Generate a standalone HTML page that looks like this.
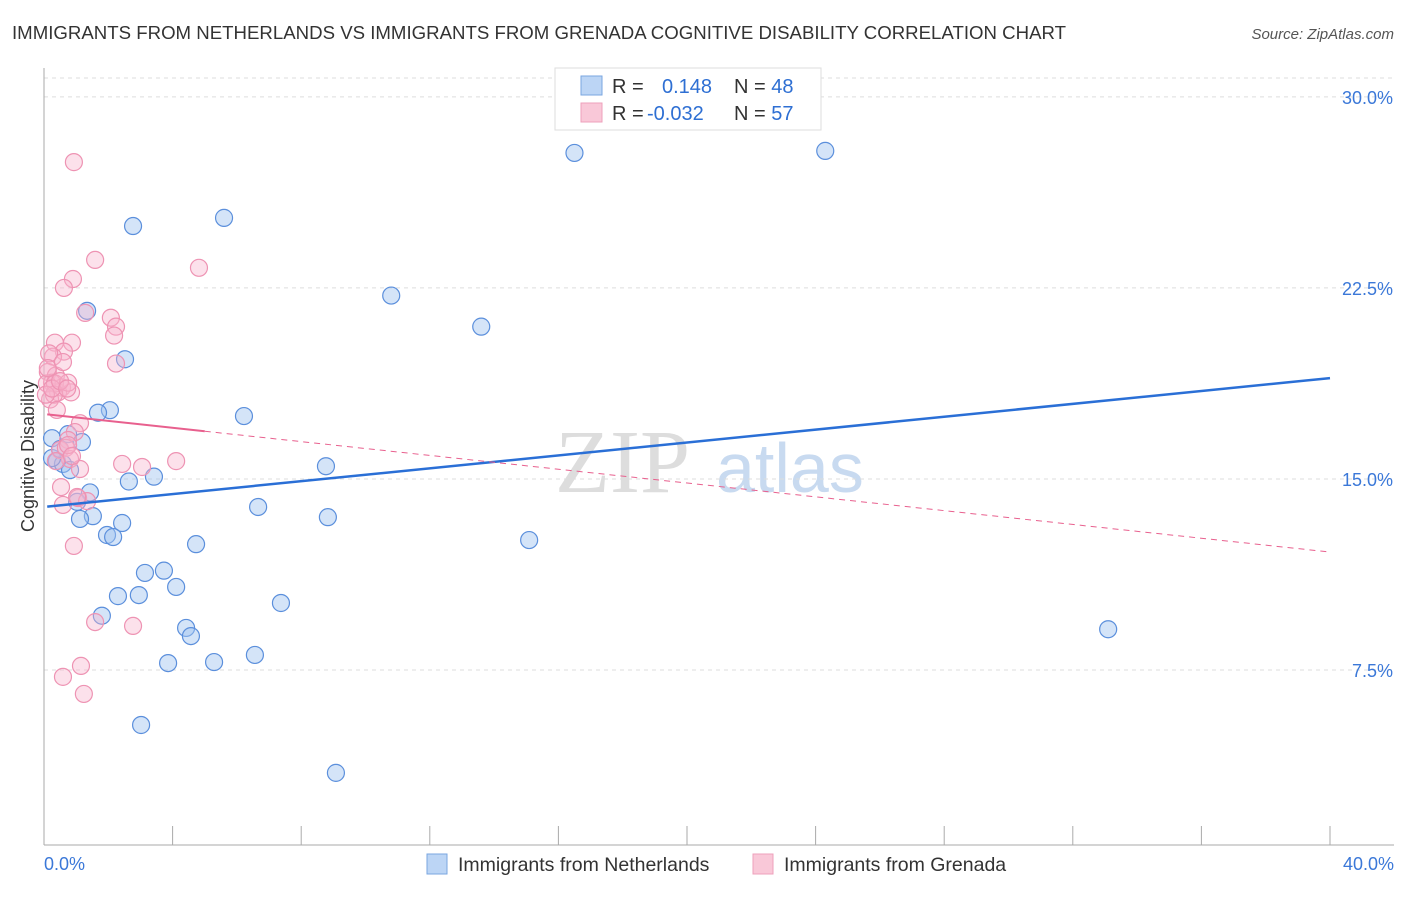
<!DOCTYPE html>
<html><head><meta charset="utf-8"><style>
body{margin:0;background:#fff;font-family:"Liberation Sans",sans-serif}
</style></head><body>
<svg id="chart" width="1406" height="892" xmlns="http://www.w3.org/2000/svg" font-family="Liberation Sans, sans-serif">
<text x="12" y="39" font-size="18" fill="#333" textLength="1054" lengthAdjust="spacingAndGlyphs">IMMIGRANTS FROM NETHERLANDS VS IMMIGRANTS FROM GRENADA COGNITIVE DISABILITY CORRELATION CHART</text>
<text x="1394" y="39" font-size="15" fill="#555" text-anchor="end" font-style="italic">Source: ZipAtlas.com</text>
<text x="555" y="492" font-size="90" fill="#ddd" font-family="Liberation Serif, serif">ZIP</text>
<text x="716" y="492" font-size="70" fill="#c8daf0">atlas</text>
<g id="grid"></g><g id="axes"></g><g id="pts"></g><g id="lines"></g>
<text transform="translate(34,456) rotate(-90)" font-size="18" fill="#333" text-anchor="middle">Cognitive Disability</text>
<g>
<rect x="555" y="68" width="266" height="62" fill="#fff" stroke="#ddd"/>
<rect x="581" y="76" width="21" height="19" fill="#bcd5f5" stroke="#7aa6e0"/>
<rect x="581" y="103" width="21" height="19" fill="#f9c8d8" stroke="#eea0bb"/>
<text x="612" y="93" font-size="20" fill="#333">R = <tspan fill="#2e6fd3" x="662">0.148</tspan><tspan fill="#333" x="734">N = </tspan><tspan fill="#2e6fd3">48</tspan></text>
<text x="612" y="120" font-size="20" fill="#333">R = <tspan fill="#2e6fd3" x="647">-0.032</tspan><tspan fill="#333" x="734">N = </tspan><tspan fill="#2e6fd3">57</tspan></text>
</g>
<g>
<rect x="427" y="854" width="20" height="20" fill="#bcd5f5" stroke="#7aa6e0"/>
<text x="458" y="871" font-size="19.5" fill="#333">Immigrants from Netherlands</text>
<rect x="753" y="854" width="20" height="20" fill="#f9c8d8" stroke="#eea0bb"/>
<text x="784" y="871" font-size="19.5" fill="#333">Immigrants from Grenada</text>
</g>
</svg>
<script>
const yTicks=[7.5,15,22.5,30];
const yTickLabels=["7.5%","15.0%","22.5%","30.0%"];
const blueX=[2.77,5.6,16.5,24.3,10.8,13.6,1.34,2.52,2.05,1.68,6.22,0.25,0.75,1.18,0.4,0.59,8.77,3.42,2.64,1.43,1.03,6.66,1.52,1.12,8.83,2.43,1.96,2.15,15.09,4.73,3.73,3.14,4.11,2.3,2.95,1.8,7.37,4.42,4.57,33.1,6.56,5.29,3.86,3.02,9.08,0.25,0.81,0.5];
const blueY=[24.93,25.25,27.8,27.88,22.2,20.98,21.6,19.7,17.7,17.6,17.47,16.6,16.76,16.45,15.7,15.59,15.5,15.09,14.9,14.47,14.1,13.9,13.54,13.43,13.5,13.27,12.8,12.72,12.6,12.44,11.4,11.31,10.76,10.4,10.44,9.63,10.13,9.15,8.83,9.1,8.09,7.81,7.77,5.34,3.46,15.82,15.35,16.17];
const pinkX=[0.93,1.59,0.9,0.62,4.82,1.28,2.08,2.24,2.18,2.24,0.34,0.87,0.62,0.28,0.16,0.12,0.37,0.25,0.56,0.44,0.84,0.19,0.09,0.34,0.75,0.31,0.06,1.12,0.96,0.75,0.5,0.68,0.81,0.37,1.12,2.43,3.05,4.11,0.53,0.59,1.06,1.34,0.93,1.59,2.77,1.15,0.59,1.24,0.75,0.25,0.5,0.72,0.12,0.59,0.87,1.03,0.4];
const pinkY=[27.44,23.6,22.85,22.5,23.29,21.52,21.33,20.98,20.63,19.53,20.35,20.35,20.0,19.8,19.93,19.2,19.06,18.78,18.59,18.4,18.4,18.12,18.75,18.75,18.78,18.31,18.31,17.19,16.84,16.53,16.14,16.22,15.78,15.7,15.39,15.59,15.47,15.7,14.68,13.98,14.25,14.13,12.37,9.38,9.23,7.66,7.23,6.56,16.33,18.55,18.84,18.55,19.35,19.59,15.9,14.29,17.71];
const trendBlue=[13.9,18.96];
const trendPink=[17.55,12.13];
const xs=v=>44+v*32.15, ys=v=>861-v*25.47;
const ns="http://www.w3.org/2000/svg";
function mk(t,a,p){const e=document.createElementNS(ns,t);for(const k in a)e.setAttribute(k,a[k]);document.getElementById(p).appendChild(e);return e;}
yTicks.forEach((t,i)=>{
 const l=mk('line',{x1:44,x2:1394,y1:ys(t),y2:ys(t),stroke:'#ddd','stroke-dasharray':'4,4'},'grid');
 
 
 const tx=mk('text',{x:1393,y:ys(t)+7,'font-size':18,fill:'#3b78d8','text-anchor':'end'},'grid');
 tx.textContent=yTickLabels[i];
 
 
});
const topGrid=mk('line',{x1:44,x2:1394,y1:78,y2:78,stroke:'#ddd','stroke-dasharray':'4,4'},'grid');


const ax=mk('line',{x1:44,x2:44,y1:68,y2:845,stroke:'#aaa'},'axes');


const bx=mk('line',{x1:44,x2:1394,y1:845,y2:845,stroke:'#aaa'},'axes');


for(let i=0;i<=10;i++){const t=mk('line',{x1:xs(i*4),x2:xs(i*4),y1:826,y2:845,stroke:'#aaa'},'axes');
 
 }
[["0.0%",44,'start'],["40.0%",1394,'end']].forEach(a=>{const t=mk('text',{x:a[1],y:870,'font-size':18,fill:'#3b78d8','text-anchor':a[2]},'axes');t.textContent=a[0];
 
 });
blueX.forEach((x,i)=>{const c=mk('circle',{cx:xs(x),cy:ys(blueY[i]),r:8.5,fill:'rgba(160,195,240,0.45)',stroke:'#5b8fdc','stroke-width':1.2},'pts');
 
 });
pinkX.forEach((x,i)=>{const c=mk('circle',{cx:xs(x),cy:ys(pinkY[i]),r:8.5,fill:'rgba(248,180,205,0.4)',stroke:'#ee93b3','stroke-width':1.2},'pts');
 
 });
const lb=mk('line',{x1:xs(0.1),y1:ys(trendBlue[0]+(trendBlue[1]-trendBlue[0])*0.1/40),x2:xs(40),y2:ys(trendBlue[1]),stroke:'#2a6fd6','stroke-width':2.5},'lines');


const pv=x=>trendPink[0]+(trendPink[1]-trendPink[0])*x/40;
const lp=mk('line',{x1:xs(0.1),y1:ys(pv(0.1)),x2:xs(5),y2:ys(pv(5)),stroke:'#e8608e','stroke-width':2},'lines');


const lpd=mk('line',{x1:xs(5),y1:ys(pv(5)),x2:xs(40),y2:ys(pv(40)),stroke:'#e8608e','stroke-width':1,'stroke-dasharray':'6,5'},'lines');


</script>
</body></html>
